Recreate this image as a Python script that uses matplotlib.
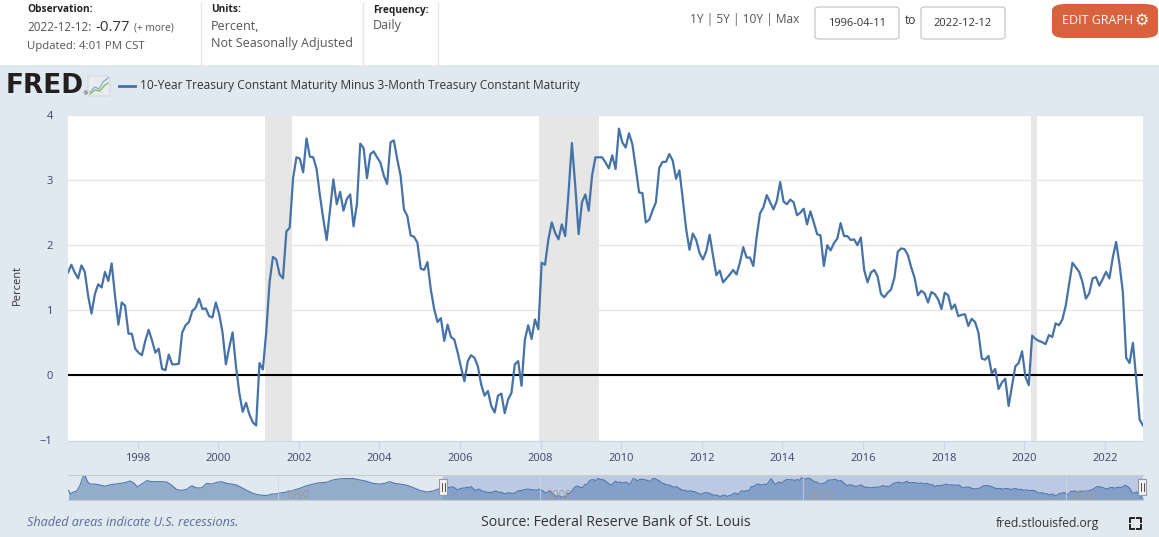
import matplotlib
matplotlib.use("Agg")
import matplotlib.pyplot as plt
import matplotlib.dates as mdates
from matplotlib.patches import Rectangle, FancyBboxPatch
from matplotlib.lines import Line2D
import pandas as pd

plt.rcParams['font.family'] = ['Open Sans', 'DejaVu Sans']

# 10-Year minus 3-Month treasury spread (percent), 1996-04-11 .. 2022-12-12, ~monthly points
spread = [
    1.58, 1.70, 1.58, 1.49, 1.69, 1.59, 1.22, 0.95, 1.25, 1.40,
    1.35, 1.59, 1.45, 1.72, 1.22, 0.78, 1.12, 1.07, 0.64, 0.64,
    0.41, 0.35, 0.31, 0.53, 0.70, 0.54, 0.35, 0.41, 0.10, 0.08,
    0.32, 0.17, 0.17, 0.18, 0.66, 0.77, 0.82, 0.99, 1.04, 1.18,
    1.02, 1.03, 0.91, 0.89, 1.12, 0.94, 0.66, 0.17, 0.43, 0.66,
    0.14, -0.27, -0.56, -0.42, -0.60, -0.72, -0.77, 0.19, 0.09, 0.66,
    1.43, 1.82, 1.78, 1.55, 1.49, 2.21, 2.27, 3.03, 3.35, 3.33,
    3.12, 3.64, 3.36, 3.35, 3.17, 2.76, 2.40, 2.08, 2.55, 3.01,
    2.63, 2.82, 2.53, 2.71, 2.78, 2.29, 2.63, 3.56,
    3.49, 3.03, 3.40, 3.44, 3.35, 3.27, 3.07, 2.94, 3.58, 3.61,
    3.32, 3.07, 2.55, 2.45, 2.15, 2.13, 2.04, 1.64, 1.62, 1.74,
    1.32, 1.02, 0.82, 0.88, 0.53, 0.78, 0.59, 0.55, 0.35, 0.12,
    -0.09, 0.22, 0.31, 0.27, 0.14, -0.14, -0.31, -0.24, -0.47, -0.57,
    -0.31, -0.28, -0.58, -0.37, -0.27, 0.17, 0.22, -0.16, 0.55, 0.77,
    0.56, 0.86, 0.71, 1.73, 1.70, 2.09, 2.35, 2.19, 2.09, 2.32,
    2.14, 2.81, 3.57, 2.91, 2.17, 2.66, 2.78, 2.53, 3.07, 3.35,
    3.35, 3.35, 3.27, 3.18, 3.38, 3.17, 3.79,
    3.58, 3.50, 3.72, 3.55, 3.19, 2.81, 2.80, 2.35, 2.39, 2.53,
    2.66, 3.19, 3.28, 3.28, 3.40, 3.30, 3.02, 3.15, 2.71, 2.25,
    1.93, 2.18, 2.08, 1.88, 1.78, 1.91, 2.16, 1.84, 1.54, 1.61,
    1.43, 1.49, 1.55, 1.62, 1.55, 1.73, 1.97, 1.81, 1.81, 1.68,
    2.13, 2.49, 2.58, 2.77, 2.66, 2.55, 2.68, 2.97, 2.67, 2.63,
    2.70, 2.66, 2.46, 2.50, 2.56, 2.32, 2.52, 2.35, 2.17, 2.15,
    1.68, 2.00, 1.92, 2.03, 2.10, 2.34, 2.14, 2.14, 2.08, 2.09,
    2.00, 2.12, 1.62, 1.43, 1.58, 1.62, 1.52, 1.25,
    1.20, 1.27, 1.32, 1.50, 1.90, 1.95, 1.94, 1.85, 1.66, 1.50,
    1.23, 1.30, 1.26, 1.12, 1.28, 1.25, 1.17, 1.02, 1.27, 1.23,
    1.02, 1.09, 0.91, 0.93, 0.94, 0.76, 0.87, 0.82, 0.66, 0.26,
    0.24, 0.30, 0.03, 0.10, -0.21, -0.11, -0.05, -0.47, -0.16, 0.14,
    0.19, 0.37, -0.02, -0.15, 0.61, 0.56, 0.53, 0.51, 0.48, 0.62,
    0.59, 0.80, 0.77, 0.86, 1.07, 1.40, 1.73, 1.66, 1.59, 1.43,
    1.18, 1.26, 1.49, 1.51, 1.38, 1.48, 1.59, 1.49, 1.81, 2.05,
    1.71, 1.28, 0.27, 0.19, 0.50, -0.06, -0.68, -0.77,
]
start_date = '1996-04-11'
end_date = '2022-12-12'

# earlier history shown only in the navigator (decimal year, percent)
hist_years = [
    1982.03, 1982.09, 1982.22, 1982.34, 1982.47, 1982.57, 1982.66, 1982.75, 1982.85, 1983.04,
    1983.23, 1983.42, 1983.61, 1983.80, 1983.99, 1984.18, 1984.37, 1984.50, 1984.65, 1984.82,
    1985.01, 1985.20, 1985.39, 1985.58, 1985.77, 1985.95, 1986.15, 1986.34, 1986.53, 1986.72,
    1986.91, 1987.10, 1987.29, 1987.48, 1987.67, 1987.86, 1988.05, 1988.24, 1988.43, 1988.62,
    1988.81, 1989.00, 1989.19, 1989.38, 1989.57, 1989.76, 1989.95, 1990.14, 1990.33, 1990.58,
    1990.84, 1991.09, 1991.34, 1991.60, 1991.85, 1992.10, 1992.36, 1992.61, 1992.86, 1993.12,
    1993.37, 1993.62, 1993.88, 1994.07, 1994.26, 1994.45, 1994.64, 1994.90, 1995.15, 1995.40,
    1995.66, 1995.91, 1996.16,
]
hist_values = [
    0.85, 0.04, 0.45, 0.69, 2.07, 3.94, 4.27, 2.89, 2.32, 2.32,
    2.07, 1.83, 2.15, 2.32, 2.48, 2.64, 3.05, 2.64, 1.67, 2.32,
    3.13, 2.89, 2.89, 2.89, 2.80, 2.07, 1.02, 0.85, 1.10, 1.91,
    1.42, 1.42, 2.48, 2.32, 2.72, 2.89, 2.48, 2.32, 2.07, 1.50,
    0.85, 0.28, -0.12, -0.28, -0.37, -0.04, 0.04, 0.28, 0.45, 0.85,
    1.34, 1.91, 2.32, 2.64, 2.72, 3.29, 3.54, 3.62, 3.62, 3.29,
    2.97, 2.48, 2.32, 2.48, 2.89, 2.48, 2.32, 2.07, 1.50, 0.85,
    0.45, 0.69, 1.26,
]

recessions = [('2001-03-01', '2001-10-28'), ('2007-12-15', '2009-06-10'), ('2020-02-28', '2020-04-22')]
year_ticks = list(range(1998, 2023, 2))
nav_labels = [1990, 2000, 2010, 2020]

W, H = 1159, 537
LINE = '#4572a7'
BG = '#e1e9f0'
LABEL = '#3c4669'


def fx(x):
    return x / W


def fy(y):
    return 1 - y / H


def year_to_date(y):
    yr = int(y)
    return pd.Timestamp(year=yr, month=1, day=1) + pd.Timedelta(days=(y - yr) * 365.25)


dates = pd.date_range(start_date, end_date, periods=len(spread))
hist_dates = [year_to_date(y) for y in hist_years]

fig = plt.figure(figsize=(W / 100, H / 100), dpi=100, facecolor=BG)
renderer = fig.canvas.get_renderer()

# header strip
fig.patches.append(Rectangle((0, fy(65)), 1, 65 / H, transform=fig.transFigure,
                             facecolor='white', edgecolor='none', zorder=0))
for sx in [201, 363, 438]:
    fig.add_artist(Line2D([fx(sx), fx(sx)], [fy(3), fy(65)], color='#e6e6e6', lw=1))

fig.text(fx(27), fy(10), 'Observation:', fontsize=7.3, fontweight='bold', color='#222222', va='center')

# observation line: pieces placed one after another
x_cursor = 27
for piece, size, color, gap in [('2022-12-12:', 8.4, '#555555', 4), ('-0.77', 10.8, '#333333', 4),
                                ('(+ more)', 7.3, '#555555', 0)]:
    t = fig.text(fx(x_cursor), fy(28), piece, fontsize=size, color=color, va='center')
    x_cursor += t.get_window_extent(renderer).width + gap

fig.text(fx(27), fy(46), 'Updated: 4:01 PM CST', fontsize=8.2, color='#555555', va='center')
fig.text(fx(211), fy(10), 'Units:', fontsize=7.3, fontweight='bold', color='#222222', va='center')
fig.text(fx(211), fy(26), 'Percent,', fontsize=9, color='#555555', va='center')
fig.text(fx(211), fy(43), 'Not Seasonally Adjusted', fontsize=9, color='#555555', va='center')
fig.text(fx(373), fy(10), 'Frequency:', fontsize=7.3, fontweight='bold', color='#222222', va='center')
fig.text(fx(373), fy(25), 'Daily', fontsize=9, color='#555555', va='center')
fig.text(fx(690), fy(20), '1Y | 5Y | 10Y | Max', fontsize=8.6, color='#555555', va='center')

for bx, label in [(815, start_date), (921, end_date)]:
    fig.patches.append(FancyBboxPatch((fx(bx), fy(39)), 84 / W, 32 / H,
                                      boxstyle='round,pad=0,rounding_size=0.004',
                                      transform=fig.transFigure, facecolor='white',
                                      edgecolor='#cccccc', lw=1))
    fig.text(fx(bx + 42), fy(23), label, fontsize=8, color='#333333', ha='center', va='center')
fig.text(fx(905), fy(21), 'to', fontsize=8.6, color='#333333', va='center')

fig.patches.append(FancyBboxPatch((fx(1052), fy(38)), 106 / W, 34 / H,
                                  boxstyle='round,pad=0,rounding_size=0.012',
                                  transform=fig.transFigure, facecolor='#d9623e',
                                  edgecolor='none'))
fig.text(fx(1062), fy(21), 'EDIT GRAPH', fontsize=9, color='white', va='center')
fig.text(fx(1134), fy(21), '\u2699', fontsize=11.5, color='white', va='center',
         family=['DejaVu Sans'], fontweight='bold')

# FRED logo and legend
fig.text(fx(6), fy(86), 'FRED', fontsize=19, fontweight='heavy', color='#231f20', va='center',
         family=['DejaVu Sans'])
fig.text(fx(82), fy(94), '\u00ae', fontsize=4, color='#231f20', va='center', family=['DejaVu Sans'])
fig.patches.append(FancyBboxPatch((fx(88), fy(96)), 22 / W, 20 / H,
                                  boxstyle='round,pad=0,rounding_size=0.002',
                                  transform=fig.transFigure, facecolor='#e8ecef', edgecolor='#d0d4d8', lw=0.6))
fig.add_artist(Line2D([fx(90), fx(95), fx(99), fx(103), fx(108)],
                      [fy(92), fy(87), fy(89), fy(82), fy(78)], color='#8fb3d3', lw=1))
fig.add_artist(Line2D([fx(90), fx(95), fx(100), fx(104), fx(108)],
                      [fy(94), fy(90), fy(91), fy(86), fy(83)], color='#8dbb5a', lw=1))
fig.add_artist(Line2D([fx(119), fx(135)], [fy(86), fy(86)], color=LINE, lw=2))
fig.text(fx(140), fy(86), '10-Year Treasury Constant Maturity Minus 3-Month Treasury Constant Maturity',
         fontsize=8.6, color='#333333', va='center')

# main chart
ax = fig.add_axes([fx(68), fy(440.5), (1143 - 68) / W, (440.5 - 115) / H])
ax.set_facecolor('white')
for r0, r1 in recessions:
    ax.axvspan(pd.Timestamp(r0), pd.Timestamp(r1), color='#e6e6e6', lw=0, zorder=0)
ax.plot(dates, spread, color=LINE, lw=1.6, zorder=3)
ax.axhline(0, color='black', lw=1.5, zorder=2)
ax.set_xlim(pd.Timestamp(start_date), pd.Timestamp(end_date))
ax.set_ylim(-1, 4)
ax.set_yticks([-1, 0, 1, 2, 3, 4])
ax.yaxis.grid(True, color='#e6e6e6', lw=1)
ax.set_axisbelow(True)
ax.set_xticks([pd.Timestamp(year=y, month=1, day=1) for y in year_ticks])
ax.xaxis.set_major_formatter(mdates.DateFormatter('%Y'))
for s in ['top', 'left', 'right']:
    ax.spines[s].set_visible(False)
ax.spines['bottom'].set_color('#ccd6eb')
ax.tick_params(axis='y', length=0, pad=11, labelsize=8, labelcolor=LABEL)
ax.tick_params(axis='x', length=6, width=1, color='#ccd6eb', pad=3, labelsize=8, labelcolor=LABEL)
fig.text(fx(17), fy(285), 'Percent', rotation=90, fontsize=8, color='#333333', ha='center', va='center')

# navigator
nav = fig.add_axes([fx(68), fy(500), (1143 - 68) / W, 25 / H])
nav.set_facecolor(BG)
nav_dates = list(hist_dates) + list(dates)
nav_values = hist_values + spread
nav.fill_between(nav_dates, nav_values, -5, color='#93accb', lw=0)
nav.plot(nav_dates, nav_values, color='#4f78ad', lw=0.8)
nav.axvspan(pd.Timestamp(start_date), pd.Timestamp(end_date), color=(102 / 255, 133 / 255, 194 / 255),
            alpha=0.3, lw=0)
for y in nav_labels:
    d = pd.Timestamp(year=y, month=1, day=1)
    nav.axvline(d, color='#cfd8e6', lw=0.8, alpha=0.7)
    nav.text(d + pd.Timedelta(days=80), -0.3, str(y), fontsize=8, color='#9a9a9a',
             va='center', ha='left')
nav.set_xlim(pd.Timestamp('1982-01-04'), pd.Timestamp(end_date))
nav.set_ylim(-1.41, 4.44)
nav.set_xticks([])
nav.set_yticks([])
for s in ['left', 'right']:
    nav.spines[s].set_visible(False)
for s in ['top', 'bottom']:
    nav.spines[s].set_color('#cccccc')

for hx in [443, 1142]:
    fig.patches.append(Rectangle((fx(hx - 4), fy(495)), 8 / W, 16 / H, transform=fig.transFigure,
                                 facecolor='#f2f2f2', edgecolor='#999999', lw=0.8, zorder=5))
    for dx in [-1.5, 1.5]:
        fig.add_artist(Line2D([fx(hx + dx), fx(hx + dx)], [fy(483), fy(491)], color='#333333', lw=0.6,
                              zorder=6))

# footer
fig.text(fx(27), fy(523), 'Shaded areas indicate U.S. recessions.', fontsize=9.1, style='italic',
         color='#5a6b96', va='center')
fig.text(fx(616), fy(523), 'Source: Federal Reserve Bank of St. Louis', fontsize=10.2, color='#333333',
         ha='center', va='center')
fig.text(fx(1099), fy(523), 'fred.stlouisfed.org', fontsize=8.7, color='#333333', ha='right', va='center')
for cx, cy, sx, sy in [(1130, 518, 1, 1), (1141, 518, -1, 1), (1130, 529, 1, -1), (1141, 529, -1, -1)]:
    fig.add_artist(Line2D([fx(cx + 4 * sx), fx(cx), fx(cx)], [fy(cy), fy(cy), fy(cy + 4 * sy)],
                          color='#222222', lw=1.4))

fig.savefig('out.png', dpi=100, facecolor=BG)
